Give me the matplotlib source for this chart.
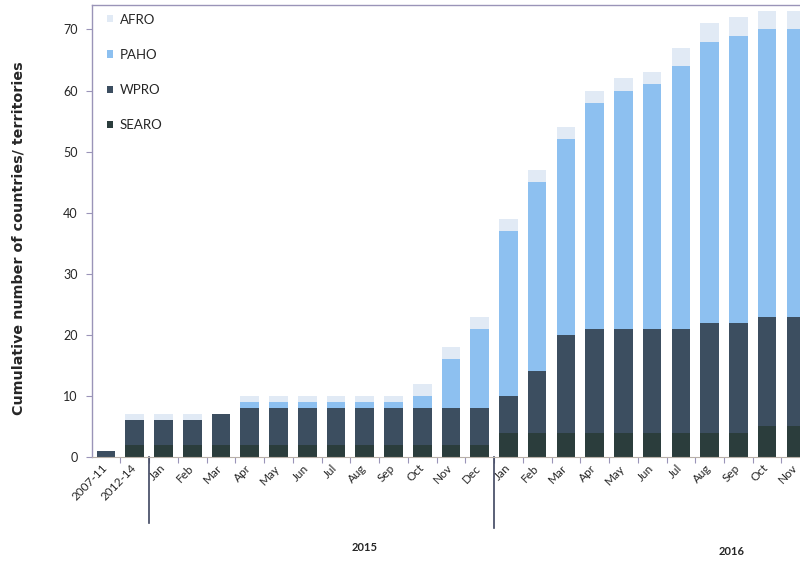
"""Cumulative countries/territories reporting Zika transmission, by WHO region."""

import matplotlib

matplotlib.use("Agg")
import matplotlib.pyplot as plt
import matplotlib.transforms as mtransforms
import numpy as np

plt.rcParams["font.family"] = ["Lato", "DejaVu Sans"]

PERIODS = [
    "2007-11", "2012-14",
    "Jan", "Feb", "Mar", "Apr", "May", "Jun", "Jul", "Aug", "Sep", "Oct", "Nov", "Dec",
    "Jan", "Feb", "Mar", "Apr", "May", "Jun", "Jul", "Aug", "Sep", "Oct", "Nov",
]
SEARO = [0, 2, 2, 2, 2, 2, 2, 2, 2, 2, 2, 2, 2, 2, 4, 4, 4, 4, 4, 4, 4, 4, 4, 5, 5]
WPRO = [1, 4, 4, 4, 5, 6, 6, 6, 6, 6, 6, 6, 6, 6, 6, 10, 16, 17, 17, 17, 17, 18, 18, 18, 18]
PAHO = [0, 0, 0, 0, 0, 1, 1, 1, 1, 1, 1, 2, 8, 13, 27, 31, 32, 37, 39, 40, 43, 46, 47, 47, 47]
AFRO = [0, 1, 1, 1, 0, 1, 1, 1, 1, 1, 1, 2, 2, 2, 2, 2, 2, 2, 2, 2, 3, 3, 3, 3, 3]

YEARS = ["2015", "2016"]
YEAR_BREAKS = [1.5, 13.5]  # boundaries between period groups
YEAR_LABEL_X = [9.0, 21.75]

COLORS = {"SEARO": "#2b3d3c", "WPRO": "#3c4e60", "PAHO": "#8dc0f0", "AFRO": "#e1eaf5"}
TEXT = "#262626"

fig = plt.figure(figsize=(8, 5.61), dpi=100)
ax = fig.add_axes([0.1145, 0.1854, 0.8983, 0.8057])

x = np.arange(len(PERIODS))
bottom = np.zeros(len(PERIODS))
handles = []
for name, vals in [("SEARO", SEARO), ("WPRO", WPRO), ("PAHO", PAHO), ("AFRO", AFRO)]:
    vals = np.array(vals, dtype=float)
    h = ax.bar(x, vals, width=0.65, bottom=bottom, color=COLORS[name], label=name,
               edgecolor="none", zorder=2)
    handles.append(h)
    bottom += vals

ax.set_xlim(-0.5, len(PERIODS) - 0.5)
ax.set_ylim(0, 74)
ax.set_yticks(range(0, 71, 10))
ax.tick_params(axis="y", length=4, width=0.8, color="#9a94b8", labelsize=9,
               labelcolor=TEXT, pad=6)

ax.set_xticks(x)
ax.set_xticklabels([])
ax.tick_params(axis="x", which="major", length=0)
ax.set_xticks(x[:-1] + 0.5, minor=True)
ax.tick_params(axis="x", which="minor", length=4, width=0.8, color="#9a94b8")

for i, lab in enumerate(PERIODS):
    ax.text(i - 0.15, -0.012, lab, transform=ax.get_xaxis_transform(), rotation=46,
            ha="right", va="top", rotation_mode="anchor", fontsize=8.5, color=TEXT)

trans = mtransforms.blended_transform_factory(ax.transData, ax.transAxes)
for xb, depth in zip(YEAR_BREAKS, [-0.146, -0.157]):
    ax.plot([xb, xb], [0, depth], transform=trans, color="#3e4660", lw=1.2, clip_on=False)
for lab, xl, yl in zip(YEARS, YEAR_LABEL_X, [-0.201, -0.208]):
    ax.text(xl, yl, lab, transform=trans, ha="center", va="center", fontsize=8,
            fontweight="bold", color=TEXT)

ax.set_ylabel("Cumulative number of countries/ territories", fontsize=10.3, fontweight="bold",
              family="DejaVu Sans", color=TEXT)
ax.yaxis.set_label_coords(-0.092, 0.485)

for side in ["left", "top"]:
    ax.spines[side].set_color("#9a94b8")
    ax.spines[side].set_linewidth(1.0)
ax.spines["bottom"].set_color("#b8b0a8")
ax.spines["right"].set_visible(False)

leg = ax.legend(handles[::-1], ["AFRO", "PAHO", "WPRO", "SEARO"], loc="upper left",
                bbox_to_anchor=(0.022, 0.981), frameon=False, fontsize=9.5,
                handlelength=0.45, handleheight=0.45, handletextpad=0.5,
                labelspacing=1.75, borderpad=0, borderaxespad=0)
for t in leg.get_texts():
    t.set_color(TEXT)

fig.savefig("out.png", dpi=100)
